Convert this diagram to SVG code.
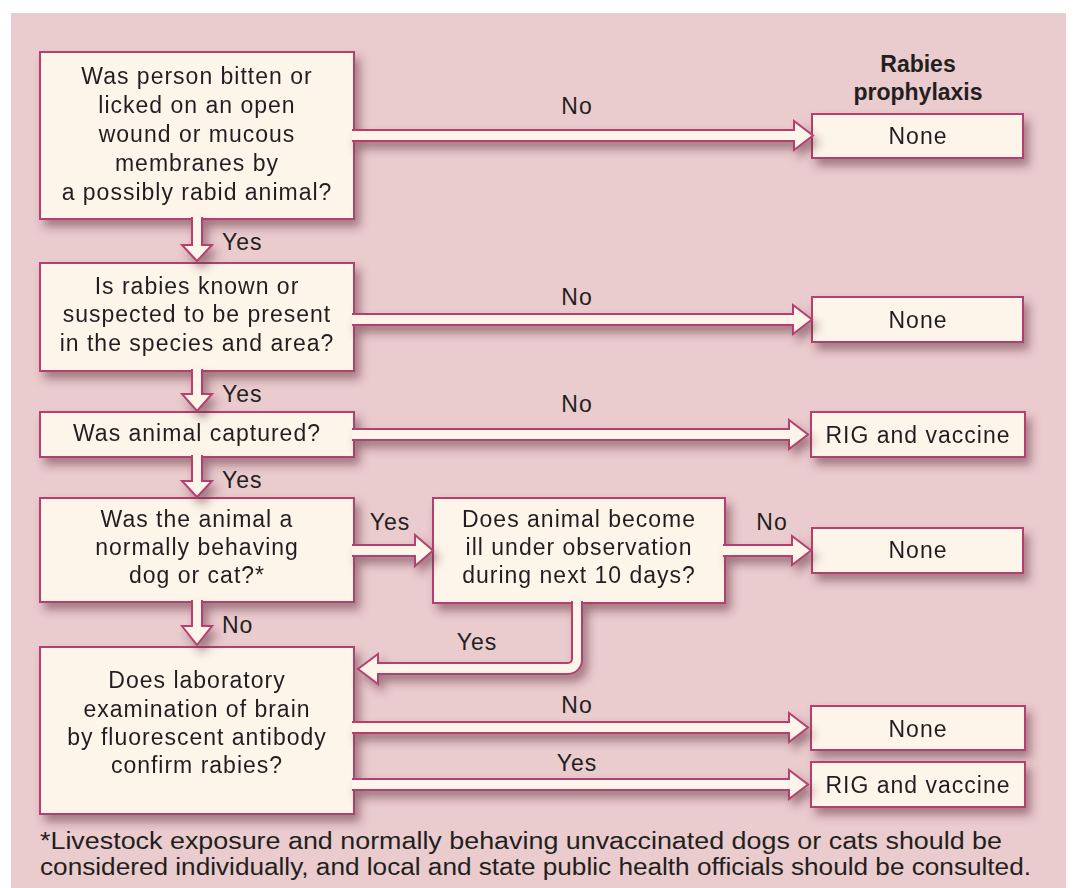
<svg xmlns="http://www.w3.org/2000/svg" width="1073" height="888" viewBox="0 0 1073 888">
<defs>
<filter id="sh" x="-10%" y="-20%" width="130%" height="160%">
<feDropShadow dx="5" dy="7" stdDeviation="5" flood-color="#5a2a38" flood-opacity="0.5"/>
</filter>
<style>
.box{fill:#FDF5EA;stroke:#B5416F;stroke-width:2}
.arr{fill:#FDF5EA;stroke:#B5416F;stroke-width:2;stroke-linejoin:miter}
text{font-family:"Liberation Sans",Arial,sans-serif;font-size:23px;letter-spacing:1px;fill:#231F20}
.c{text-anchor:middle}
.b{font-weight:bold;letter-spacing:0}
.fn{letter-spacing:0}
</style>
</defs>
<rect x="0" y="0" width="1073" height="888" fill="#ffffff"/>
<rect x="11" y="13" width="1055" height="875" fill="#EACBCE"/>

<g id="nodes" filter="url(#sh)">
<g id="q1"><rect class="box" x="40" y="52" width="314" height="167"/>
<text class="c" x="197" y="84">Was person bitten or</text>
<text class="c" x="197" y="113">licked on an open</text>
<text class="c" x="197" y="142">wound or mucous</text>
<text class="c" x="197" y="171">membranes by</text>
<text class="c" x="197" y="200">a possibly rabid animal?</text></g>
<g id="q2"><rect class="box" x="40" y="263" width="314" height="108"/>
<text class="c" x="197" y="294">Is rabies known or</text>
<text class="c" x="197" y="322">suspected to be present</text>
<text class="c" x="197" y="351">in the species and area?</text></g>
<g id="q3"><rect class="box" x="40" y="412" width="314" height="45"/>
<text class="c" x="197" y="441">Was animal captured?</text></g>
<g id="q4"><rect class="box" x="40" y="498" width="314" height="104"/>
<text class="c" x="197" y="527">Was the animal a</text>
<text class="c" x="197" y="555">normally behaving</text>
<text class="c" x="197" y="583">dog or cat?*</text></g>
<g id="q5"><rect class="box" x="433" y="498" width="292" height="105"/>
<text class="c" x="579" y="527">Does animal become</text>
<text class="c" x="579" y="555">ill under observation</text>
<text class="c" x="579" y="583">during next 10 days?</text></g>
<g id="q6"><rect class="box" x="40" y="647" width="314" height="167"/>
<text class="c" x="197" y="688">Does laboratory</text>
<text class="c" x="197" y="717">examination of brain</text>
<text class="c" x="197" y="745">by fluorescent antibody</text>
<text class="c" x="197" y="773">confirm rabies?</text></g>
<g id="r1"><rect class="box" x="812" y="114" width="211" height="44"/>
<text class="c" x="918" y="144">None</text></g>
<g id="r2"><rect class="box" x="812" y="297" width="211" height="45"/>
<text class="c" x="918" y="328">None</text></g>
<g id="r3"><rect class="box" x="811" y="412" width="214" height="45"/>
<text class="c" x="918" y="443">RIG and vaccine</text></g>
<g id="r4"><rect class="box" x="812" y="528" width="211" height="45"/>
<text class="c" x="918" y="558">None</text></g>
<g id="r5"><rect class="box" x="811" y="706" width="214" height="44"/>
<text class="c" x="918" y="737">None</text></g>
<g id="r6"><rect class="box" x="811" y="762" width="214" height="45"/>
<text class="c" x="918" y="793">RIG and vaccine</text></g>
</g>

<g id="header">
<text class="c b" x="918" y="72">Rabies</text>
<text class="c b" x="918" y="100">prophylaxis</text>
</g>

<g id="connectors" filter="url(#sh)">
<path class="arr" d="M192,217 V245 H182 L197,261 L212,245 H202 V217"/>
<path class="arr" d="M192,369 V394 H182 L197,411 L212,394 H202 V369"/>
<path class="arr" d="M192,455 V481 H182 L197,497 L212,481 H202 V455"/>
<path class="arr" d="M192,600 V626 H182 L197,645 L212,626 H202 V600"/>
<path class="arr" d="M352,130 H794 V121 L813,135.5 L794,150 V141 H352"/>
<path class="arr" d="M352,314 H793 V305 L812,319.5 L793,334 V325 H352"/>
<path class="arr" d="M352,429 H789 V420 L808,434.5 L789,449 V440 H352"/>
<path class="arr" d="M352,545 H415 V535 L433,550.5 L415,566 V556 H352"/>
<path class="arr" d="M723,545 H792 V536 L811,550.5 L792,565 V556 H723"/>
<path class="arr" d="M352,722 H789 V713 L808,727.5 L789,742 V733 H352"/>
<path class="arr" d="M352,779 H789 V770 L808,784.5 L789,799 V790 H352"/>
<path class="arr" d="M572,601 V659 A4,4 0 0 1 568,663 H378 V654 L358,669 L378,684 V674 H568 A14,14 0 0 0 582,660 V601"/>
</g>

<g id="labels">
<text x="222" y="250">Yes</text>
<text x="222" y="402">Yes</text>
<text x="222" y="488">Yes</text>
<text x="222" y="633">No</text>
<text class="c" x="577" y="114">No</text>
<text class="c" x="577" y="305">No</text>
<text class="c" x="577" y="412">No</text>
<text class="c" x="390" y="530">Yes</text>
<text class="c" x="772" y="530">No</text>
<text class="c" x="477" y="650">Yes</text>
<text class="c" x="577" y="713">No</text>
<text class="c" x="577" y="771">Yes</text>
</g>

<g id="footnote">
<text class="fn" x="40" y="849" textLength="962" lengthAdjust="spacingAndGlyphs">*Livestock exposure and normally behaving unvaccinated dogs or cats should be</text>
<text class="fn" x="40" y="875" textLength="991" lengthAdjust="spacingAndGlyphs">considered individually, and local and state public health officials should be consulted.</text>
</g>
</svg>
